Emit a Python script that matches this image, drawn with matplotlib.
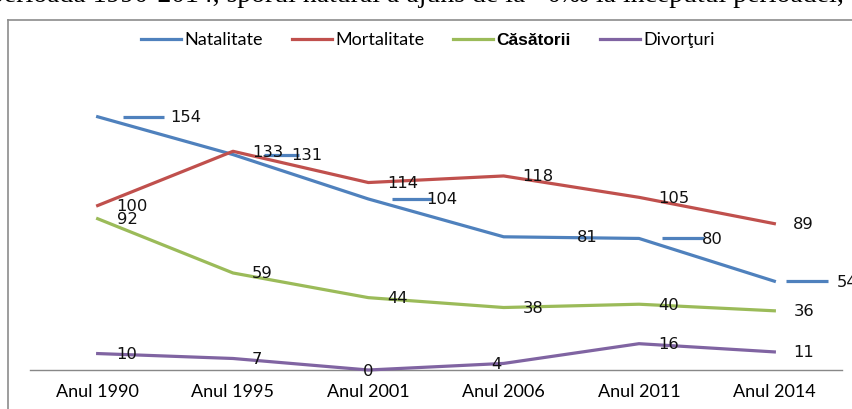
import matplotlib
matplotlib.use("Agg")
import matplotlib.pyplot as plt
import matplotlib.transforms as mtrans
from matplotlib.lines import Line2D

ani = ["Anul 1990", "Anul 1995", "Anul 2001", "Anul 2006", "Anul 2011", "Anul 2014"]
natalitate = [154, 131, 104, 81, 80, 54]
mortalitate = [100, 133, 114, 118, 105, 89]
casatorii = [92, 59, 44, 38, 40, 36]
divorturi = [10, 7, 0, 4, 16, 11]

culori = ["#4F81BD", "#C0504D", "#9BBB59", "#8064A2"]
nume = ["Natalitate", "Mortalitate", "Căsătorii", "Divorţuri"]

font_lbl = ["DejaVu Sans"]
font_ax = ["Lato", "DejaVu Sans"]

fig = plt.figure(figsize=(8.53, 4.09), dpi=100)
ax = fig.add_axes([30/853, 39/409, 812/853, 296/409])

x = list(range(len(ani)))
serii = [natalitate, mortalitate, casatorii, divorturi]
for k, s in enumerate(serii):
    ax.plot(x, s, color=culori[k], lw=2.3, label=nume[k], zorder=2+k,
            solid_joinstyle="round", clip_on=False)

def px(dx, dy):
    return ax.transData + mtrans.Affine2D().translate(dx, dy)

# natalitate - etichete mutate, cu linii de legatura
nat_dx = [88, 74, 73, 84, 73, 73]
nat_lead = [(45.5, 41), (47.5, 35), (44, 40), None, (44, 42), (32.5, 43)]
for i, v in enumerate(natalitate):
    ax.annotate(str(v), (i, v), xytext=(nat_dx[i], -1), textcoords="offset pixels",
                ha="center", va="center", fontsize=11.8, family=font_lbl,
                color="#111111", annotation_clip=False, zorder=10)
    if nat_lead[i]:
        c, L = nat_lead[i]
        ax.plot([i], [v], marker="_", markersize=L*0.72, mew=2.3, color=culori[0],
                transform=px(c, 0), clip_on=False, zorder=2)

# celelalte serii - eticheta la dreapta
for k, s in enumerate([mortalitate, casatorii, divorturi]):
    for i, v in enumerate(s):
        dx, dy, ha = 19, -1, "left"
        if k == 2 and v == 0:
            dx, dy, ha = 0, -1, "center"
        if k == 2 and v == 4:
            dx, dy, ha = -7, -1, "center"
        ax.annotate(str(v), (i, v), xytext=(dx, dy), textcoords="offset pixels",
                    ha=ha, va="center", fontsize=11.8, family=font_lbl,
                    color="#111111", annotation_clip=False, zorder=10)

ax.set_xlim(-0.5, 5.5)
ax.set_ylim(0, 180)
ax.set_yticks([])
ax.set_xticks(x)
ax.set_xticklabels(ani, fontsize=13, family=font_ax)
ax.tick_params(axis="x", length=0, pad=10)
for sp in ["top", "right", "left"]:
    ax.spines[sp].set_visible(False)
ax.spines["bottom"].set_color("#888888")
ax.spines["bottom"].set_linewidth(1)

leg = fig.legend(ncol=4, loc="center", bbox_to_anchor=(428/853, 1-40/409),
                 frameon=False, prop={"family": font_ax, "size": 13},
                 handlelength=2.2, handletextpad=0.2, columnspacing=1.6)
for h in leg.get_lines():
    h.set_linewidth(2.3)
leg.get_texts()[2].set_fontfamily(["Liberation Sans", "DejaVu Sans"])
leg.get_texts()[2].set_fontsize(12.5)
leg.get_texts()[2].set_fontweight("semibold")

# chenarul graficului
fig.add_artist(Line2D([8/853, 8/853], [0, 1-20/409], color="#8c8c8c", lw=1.2,
                      transform=fig.transFigure))
fig.add_artist(Line2D([8/853, 1], [1-20/409, 1-20/409], color="#8c8c8c", lw=1.2,
                      transform=fig.transFigure))

# textul taiat de deasupra
fig.text(-10/853, 1-2/409, "perioada 1990-2014, sporul natural a ajuns de la ~0‰ la începutul perioadei,",
         family=["Liberation Serif", "DejaVu Serif"], fontsize=20, va="baseline", ha="left")

fig.savefig("out.png", dpi=100)
